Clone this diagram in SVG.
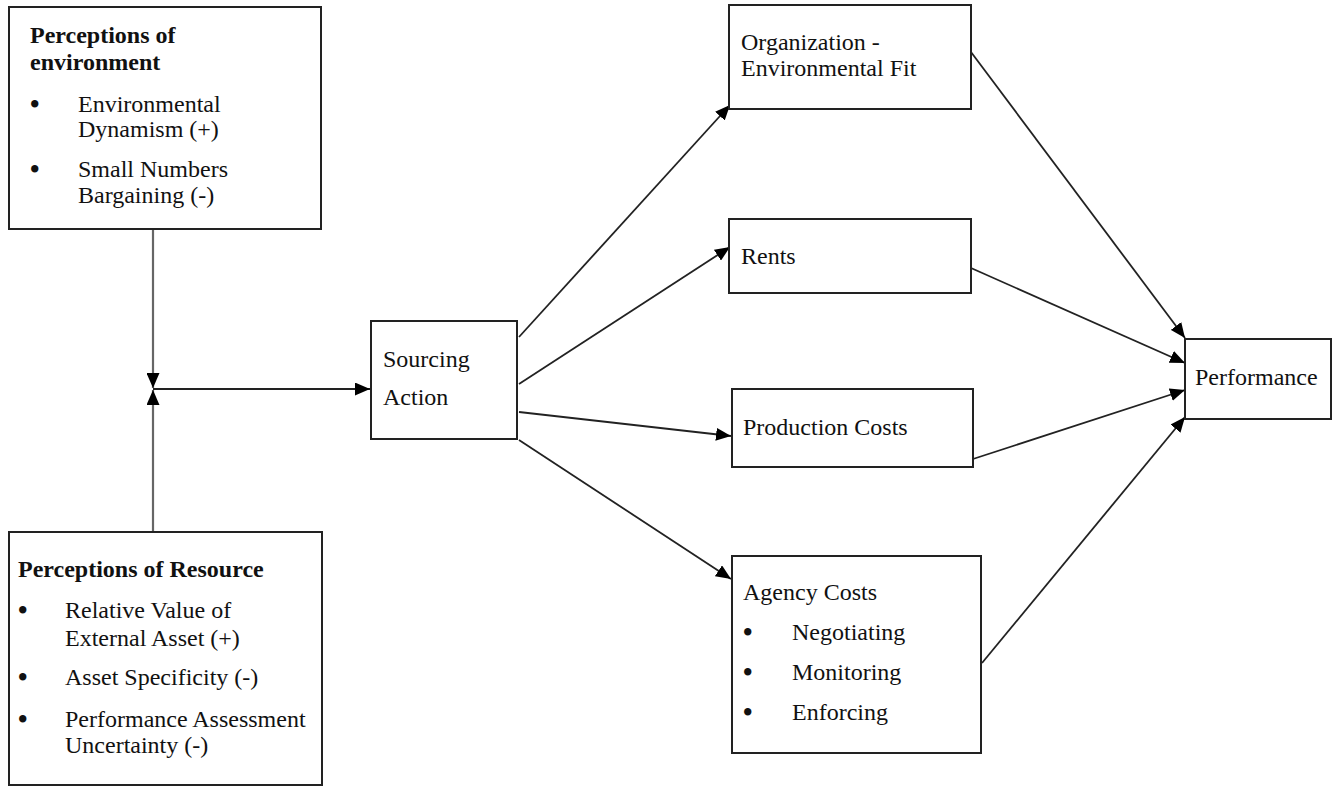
<svg xmlns="http://www.w3.org/2000/svg" width="1333" height="786" viewBox="0 0 1333 786">
<defs>
<marker id="ah" markerUnits="userSpaceOnUse" markerWidth="16" markerHeight="13" refX="15" refY="6.5" orient="auto">
<path d="M0,0 L15,6.5 L0,13 z" fill="#000"/>
</marker>
<style>
.box{fill:#fff;stroke:#222;stroke-width:2}
.t{font-family:"Liberation Serif","Times New Roman",serif;font-size:24px;fill:#111}
.b{font-weight:bold}
.u{font-size:27px;font-weight:bold}
.c{stroke:#222;stroke-width:1.8;fill:none;marker-end:url(#ah)}
.g{stroke:#666;stroke-width:2.2;fill:none;marker-end:url(#ah)}
</style>
</defs>
<rect width="1333" height="786" fill="#fff"/>
<g id="connectors">
<line class="g" x1="153" y1="229" x2="153" y2="388"/>
<line class="g" x1="153" y1="532" x2="153" y2="390"/>
<line class="c" x1="153" y1="389" x2="370" y2="389"/>
<line class="c" x1="519" y1="337" x2="730" y2="105"/>
<line class="c" x1="519" y1="384" x2="730" y2="247"/>
<line class="c" x1="519" y1="412" x2="731" y2="436"/>
<line class="c" x1="519" y1="440" x2="731" y2="579"/>
<line class="c" x1="971" y1="52" x2="1185" y2="338"/>
<line class="c" x1="971" y1="268" x2="1185" y2="363"/>
<line class="c" x1="973" y1="459" x2="1185" y2="390"/>
<line class="c" x1="982" y1="663" x2="1185" y2="417"/>
</g>
<g id="perceptions-environment">
<rect class="box" x="9" y="7" width="312" height="222"/>
<text class="t b" x="30" y="43">Perceptions of</text>
<text class="t b" x="30" y="70">environment</text>
<text class="t u" x="30" y="113">•</text>
<text class="t" x="78" y="112">Environmental</text>
<text class="t" x="78" y="137">Dynamism (+)</text>
<text class="t u" x="30" y="178">•</text>
<text class="t" x="78" y="177">Small Numbers</text>
<text class="t" x="78" y="203">Bargaining (-)</text>
</g>
<g id="perceptions-resource">
<rect class="box" x="9" y="532" width="313" height="253"/>
<text class="t b" x="18" y="577">Perceptions of Resource</text>
<text class="t u" x="18" y="619">•</text>
<text class="t" x="65" y="618">Relative Value of</text>
<text class="t" x="65" y="646">External Asset (+)</text>
<text class="t u" x="18" y="686">•</text>
<text class="t" x="65" y="685">Asset Specificity (-)</text>
<text class="t u" x="18" y="728">•</text>
<text class="t" x="65" y="727">Performance Assessment</text>
<text class="t" x="65" y="753">Uncertainty (-)</text>
</g>
<g id="sourcing-action">
<rect class="box" x="371" y="321" width="146" height="118"/>
<text class="t" x="383" y="367">Sourcing</text>
<text class="t" x="383" y="405">Action</text>
</g>
<g id="org-env-fit">
<rect class="box" x="729" y="5" width="242" height="104"/>
<text class="t" x="741" y="50">Organization -</text>
<text class="t" x="741" y="76">Environmental Fit</text>
</g>
<g id="rents">
<rect class="box" x="729" y="219" width="242" height="74"/>
<text class="t" x="741" y="264">Rents</text>
</g>
<g id="production-costs">
<rect class="box" x="732" y="389" width="241" height="78"/>
<text class="t" x="743" y="435">Production Costs</text>
</g>
<g id="agency-costs">
<rect class="box" x="732" y="556" width="249" height="197"/>
<text class="t" x="743" y="600">Agency Costs</text>
<text class="t u" x="743" y="641">•</text>
<text class="t" x="792" y="640">Negotiating</text>
<text class="t u" x="743" y="681">•</text>
<text class="t" x="792" y="680">Monitoring</text>
<text class="t u" x="743" y="721">•</text>
<text class="t" x="792" y="720">Enforcing</text>
</g>
<g id="performance">
<rect class="box" x="1185" y="339" width="146" height="80"/>
<text class="t" x="1195" y="385">Performance</text>
</g>
</svg>
